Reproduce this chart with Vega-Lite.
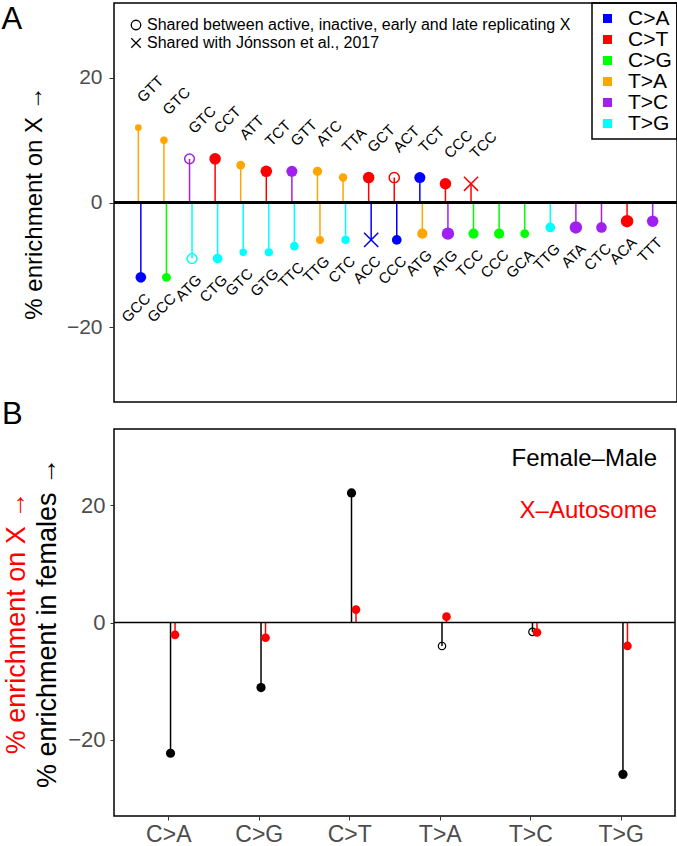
{
  "$schema": "https://vega.github.io/schema/vega-lite/v6.json",
  "padding": {"left": 0, "top": 1, "right": 1, "bottom": 0},
  "spacing": -5,
  "config": {
    "font": "Liberation Sans",
    "view": {"stroke": "black", "strokeWidth": 1.5},
    "axis": {"labelFont": "Liberation Sans", "titleFont": "Liberation Sans", "labelColor": "#4D4D4D", "tickColor": "#333333", "domain": false, "grid": false, "titleFontWeight": "normal", "titleColor": "black"},
    "legend": {"labelFont": "Liberation Sans", "titleFont": "Liberation Sans", "labelColor": "black", "strokeWidth": 1.5},
    "title": {"font": "Liberation Sans", "fontWeight": "normal", "color": "black"}
  },
  "resolve": {"scale": {"color": "independent", "shape": "independent", "size": "independent", "stroke": "independent", "x": "independent", "y": "independent", "xOffset": "independent"}},
  "vconcat": [
    {
      "width": 563,
      "height": 399,
      "title": {"text": "A", "anchor": "start", "frame": "bounds", "fontSize": 31, "baseline": "top", "offset": -34, "dx": -21},
      "data": {"values": [
        {"rank": 1, "dir": "pos", "tri": "GTT", "type": "T>A", "value": 12, "w": 7.5, "shared": "none"},
        {"rank": 2, "dir": "pos", "tri": "GTC", "type": "T>A", "value": 10, "w": 8.5, "shared": "none"},
        {"rank": 3, "dir": "pos", "tri": "GTC", "type": "T>C", "value": 7, "w": 11, "shared": "Shared between active, inactive, early and late replicating X"},
        {"rank": 4, "dir": "pos", "tri": "CCT", "type": "C>T", "value": 7, "w": 13, "shared": "none"},
        {"rank": 5, "dir": "pos", "tri": "ATT", "type": "T>A", "value": 6, "w": 10, "shared": "none"},
        {"rank": 6, "dir": "pos", "tri": "TCT", "type": "C>T", "value": 5, "w": 13, "shared": "none"},
        {"rank": 7, "dir": "pos", "tri": "GTT", "type": "T>C", "value": 5, "w": 12.5, "shared": "none"},
        {"rank": 8, "dir": "pos", "tri": "ATC", "type": "T>A", "value": 5, "w": 10.5, "shared": "none"},
        {"rank": 9, "dir": "pos", "tri": "TTA", "type": "T>A", "value": 4, "w": 9.5, "shared": "none"},
        {"rank": 10, "dir": "pos", "tri": "GCT", "type": "C>T", "value": 4, "w": 13, "shared": "none"},
        {"rank": 11, "dir": "pos", "tri": "ACT", "type": "C>T", "value": 4, "w": 11.5, "shared": "Shared between active, inactive, early and late replicating X"},
        {"rank": 12, "dir": "pos", "tri": "TCT", "type": "C>A", "value": 4, "w": 12.5, "shared": "none"},
        {"rank": 13, "dir": "pos", "tri": "CCC", "type": "C>T", "value": 3, "w": 13, "shared": "none"},
        {"rank": 14, "dir": "pos", "tri": "TCC", "type": "C>T", "value": 3, "w": 16, "shared": "Shared with Jónsson et al., 2017"},
        {"rank": 1, "dir": "neg", "tri": "GCC", "type": "C>A", "value": -12, "w": 12, "shared": "none"},
        {"rank": 2, "dir": "neg", "tri": "GCC", "type": "C>G", "value": -12, "w": 10, "shared": "none"},
        {"rank": 3, "dir": "neg", "tri": "ATG", "type": "T>G", "value": -9, "w": 11, "shared": "Shared between active, inactive, early and late replicating X"},
        {"rank": 4, "dir": "neg", "tri": "CTG", "type": "T>G", "value": -9, "w": 11, "shared": "none"},
        {"rank": 5, "dir": "neg", "tri": "GTC", "type": "T>G", "value": -8, "w": 8.5, "shared": "none"},
        {"rank": 6, "dir": "neg", "tri": "GTG", "type": "T>G", "value": -8, "w": 9.3, "shared": "none"},
        {"rank": 7, "dir": "neg", "tri": "TTC", "type": "T>G", "value": -7, "w": 9.7, "shared": "none"},
        {"rank": 8, "dir": "neg", "tri": "TTG", "type": "T>A", "value": -6, "w": 9, "shared": "none"},
        {"rank": 9, "dir": "neg", "tri": "CTC", "type": "T>G", "value": -6, "w": 9.3, "shared": "none"},
        {"rank": 10, "dir": "neg", "tri": "ACC", "type": "C>A", "value": -6, "w": 16, "shared": "Shared with Jónsson et al., 2017"},
        {"rank": 11, "dir": "neg", "tri": "CCC", "type": "C>A", "value": -6, "w": 11, "shared": "none"},
        {"rank": 12, "dir": "neg", "tri": "ATG", "type": "T>A", "value": -5, "w": 11.5, "shared": "none"},
        {"rank": 13, "dir": "neg", "tri": "ATG", "type": "T>C", "value": -5, "w": 14, "shared": "none"},
        {"rank": 14, "dir": "neg", "tri": "TCC", "type": "C>G", "value": -5, "w": 11.5, "shared": "none"},
        {"rank": 15, "dir": "neg", "tri": "CCC", "type": "C>G", "value": -5, "w": 11.5, "shared": "none"},
        {"rank": 16, "dir": "neg", "tri": "GCA", "type": "C>G", "value": -5, "w": 10, "shared": "none"},
        {"rank": 17, "dir": "neg", "tri": "TTG", "type": "T>G", "value": -4, "w": 11, "shared": "none"},
        {"rank": 18, "dir": "neg", "tri": "ATA", "type": "T>C", "value": -4, "w": 14, "shared": "none"},
        {"rank": 19, "dir": "neg", "tri": "CTC", "type": "T>C", "value": -4, "w": 12, "shared": "none"},
        {"rank": 20, "dir": "neg", "tri": "ACA", "type": "C>T", "value": -3, "w": 14, "shared": "none"},
        {"rank": 21, "dir": "neg", "tri": "TTT", "type": "T>C", "value": -3, "w": 13, "shared": "none"}
      ]},
      "layer": [
        {
          "mark": {"type": "rule", "strokeWidth": 1.5},
          "encoding": {
            "x": {"field": "rank", "type": "ordinal", "scale": {"type": "point", "padding": 1.15}, "axis": null},
            "xOffset": {"field": "dir", "type": "nominal", "scale": {"type": "point", "domain": ["pos", "neg"], "range": [-2.5, 2.5]}},
            "y": {"field": "value", "type": "quantitative", "scale": {"domain": [-32, 32], "nice": false}, "axis": {"title": "% enrichment on X →", "values": [-20, 0, 20], "titleFontSize": 24, "labelFontSize": 21, "titlePadding": 20, "labelPadding": 7, "tickSize": 5}},
            "y2": {"datum": 0},
            "stroke": {"field": "type", "type": "nominal", "sort": ["C>A", "C>T", "C>G", "T>A", "T>C", "T>G"], "scale": {"range": ["#0000FF", "#FF0000", "#00FF00", "#FFA500", "#A020F0", "#00FFFF"]}, "legend": null}
          }
        },
        {
          "mark": {"type": "rule", "color": "black", "strokeWidth": 1.5},
          "encoding": {"y": {"datum": 0, "type": "quantitative", "scale": {"domain": [-32, 32], "nice": false}, "axis": {"title": "% enrichment on X →", "values": [-20, 0, 20], "titleFontSize": 24, "labelFontSize": 21, "titlePadding": 20, "labelPadding": 7, "tickSize": 5}}}
        },
        {
          "transform": [{"filter": "datum.shared === 'none'"}],
          "mark": {"type": "point", "filled": true, "opacity": 1, "shape": "circle"},
          "encoding": {
            "x": {"field": "rank", "type": "ordinal", "scale": {"type": "point", "padding": 1.15}, "axis": null},
            "xOffset": {"field": "dir", "type": "nominal", "scale": {"type": "point", "domain": ["pos", "neg"], "range": [-2.5, 2.5]}},
            "y": {"field": "value", "type": "quantitative", "scale": {"domain": [-32, 32], "nice": false}, "axis": {"title": "% enrichment on X →", "values": [-20, 0, 20], "titleFontSize": 24, "labelFontSize": 21, "titlePadding": 20, "labelPadding": 7, "tickSize": 5}},
            "size": {"field": "w", "type": "quantitative", "scale": {"type": "pow", "exponent": 2, "domain": [0, 16], "range": [0, 201]}, "legend": null},
            "color": {"field": "type", "type": "nominal", "sort": ["C>A", "C>T", "C>G", "T>A", "T>C", "T>G"], "scale": {"range": ["#0000FF", "#FF0000", "#00FF00", "#FFA500", "#A020F0", "#00FFFF"]},
              "legend": {"orient": "top-right", "offset": 0, "title": null, "symbolType": "square", "symbolSize": 81, "symbolStrokeWidth": 0, "labelFontSize": 21, "rowPadding": -1.4, "padding": 5, "strokeColor": "black", "labelOffset": 10}}
          }
        },
        {
          "transform": [{"filter": "datum.shared !== 'none'"}],
          "mark": {"type": "point", "filled": false, "opacity": 1, "strokeWidth": 1.5},
          "encoding": {
            "x": {"field": "rank", "type": "ordinal", "scale": {"type": "point", "padding": 1.15}, "axis": null},
            "xOffset": {"field": "dir", "type": "nominal", "scale": {"type": "point", "domain": ["pos", "neg"], "range": [-2.5, 2.5]}},
            "y": {"field": "value", "type": "quantitative", "scale": {"domain": [-32, 32], "nice": false}, "axis": {"title": "% enrichment on X →", "values": [-20, 0, 20], "titleFontSize": 24, "labelFontSize": 21, "titlePadding": 20, "labelPadding": 7, "tickSize": 5}},
            "size": {"field": "w", "type": "quantitative", "legend": null},
            "stroke": {"field": "type", "type": "nominal", "sort": ["C>A", "C>T", "C>G", "T>A", "T>C", "T>G"], "legend": null},
            "shape": {"field": "shared", "type": "nominal", "scale": {"range": ["circle", "M-1,-1L1,1M1,-1L-1,1"]},
              "legend": {"orient": "top-left", "offset": 14, "title": null, "labelFontSize": 16, "rowPadding": 2, "padding": 0, "symbolSize": 90, "symbolStrokeColor": "black", "symbolFillColor": "transparent", "symbolStrokeWidth": 1.3, "labelOffset": 3, "labelLimit": 700}}
          }
        },
        {
          "transform": [{"filter": "datum.dir === 'pos'"}],
          "mark": {"type": "text", "angle": 315, "align": "left", "baseline": "middle", "radius": 28, "theta": 0.05, "fontSize": 15, "color": "black"},
          "encoding": {
            "x": {"field": "rank", "type": "ordinal", "scale": {"type": "point", "padding": 1.15}, "axis": null},
            "xOffset": {"field": "dir", "type": "nominal", "scale": {"type": "point", "domain": ["pos", "neg"], "range": [-2.5, 2.5]}},
            "y": {"field": "value", "type": "quantitative", "scale": {"domain": [-32, 32], "nice": false}, "axis": {"title": "% enrichment on X →", "values": [-20, 0, 20], "titleFontSize": 24, "labelFontSize": 21, "titlePadding": 20, "labelPadding": 7, "tickSize": 5}},
            "text": {"field": "tri"}
          }
        },
        {
          "transform": [{"filter": "datum.dir === 'neg'"}],
          "mark": {"type": "text", "angle": 315, "align": "right", "baseline": "middle", "radius": 20, "theta": 2.78, "fontSize": 15, "color": "black"},
          "encoding": {
            "x": {"field": "rank", "type": "ordinal", "scale": {"type": "point", "padding": 1.15}, "axis": null},
            "xOffset": {"field": "dir", "type": "nominal", "scale": {"type": "point", "domain": ["pos", "neg"], "range": [-2.5, 2.5]}},
            "y": {"field": "value", "type": "quantitative", "scale": {"domain": [-32, 32], "nice": false}, "axis": {"title": "% enrichment on X →", "values": [-20, 0, 20], "titleFontSize": 24, "labelFontSize": 21, "titlePadding": 20, "labelPadding": 7, "tickSize": 5}},
            "text": {"field": "tri"}
          }
        }
      ]
    },
    {
      "width": 561,
      "height": 387,
      "title": {"text": "B", "anchor": "start", "frame": "bounds", "fontSize": 31, "baseline": "top", "offset": -2, "dx": 0},
      "data": {"values": [
        {"mut": "C>A", "series": "Female–Male", "value": -22.3, "sig": true},
        {"mut": "C>G", "series": "Female–Male", "value": -11.1, "sig": true},
        {"mut": "C>T", "series": "Female–Male", "value": 22.1, "sig": true},
        {"mut": "T>A", "series": "Female–Male", "value": -4.0, "sig": false},
        {"mut": "T>C", "series": "Female–Male", "value": -1.6, "sig": false},
        {"mut": "T>G", "series": "Female–Male", "value": -25.9, "sig": true},
        {"mut": "C>A", "series": "X–Autosome", "value": -2.1, "sig": true},
        {"mut": "C>G", "series": "X–Autosome", "value": -2.6, "sig": true},
        {"mut": "C>T", "series": "X–Autosome", "value": 2.2, "sig": true},
        {"mut": "T>A", "series": "X–Autosome", "value": 1.0, "sig": true},
        {"mut": "T>C", "series": "X–Autosome", "value": -1.7, "sig": true},
        {"mut": "T>G", "series": "X–Autosome", "value": -4.0, "sig": true}
      ]},
      "resolve": {"scale": {"y": "independent"}},
      "layer": [
        {
          "mark": {"type": "rule", "strokeWidth": 1.5},
          "encoding": {
            "x": {"field": "mut", "type": "nominal", "scale": {"type": "point", "padding": 0.6}, "axis": {"title": null, "labelFontSize": 23, "labelAngle": 0, "tickSize": 4, "labelPadding": 3}},
            "xOffset": {"field": "series", "type": "nominal", "scale": {"type": "point", "domain": ["Female–Male", "X–Autosome"], "range": [0, 9]}},
            "y": {"field": "value", "type": "quantitative", "scale": {"domain": [-33, 33], "nice": false}, "axis": {"title": "% enrichment in females →", "values": [-20, 0, 20], "titleFontSize": 27, "labelFontSize": 22, "titlePadding": 6, "labelPadding": 5, "tickSize": 4, "orient": "left"}},
            "y2": {"datum": 0},
            "color": {"field": "series", "type": "nominal", "scale": {"domain": ["Female–Male", "X–Autosome"], "range": ["black", "red"]},
              "legend": {"orient": "top-right", "offset": 18, "title": null, "symbolSize": 0, "symbolOpacity": 0, "symbolStrokeWidth": 0, "labelOffset": 0, "labelFontSize": 24, "rowPadding": 28, "padding": 0, "labelAlign": "right", "labelLimit": 400, "labelColor": {"expr": "datum.value === 'X–Autosome' ? 'red' : 'black'"}}}
          }
        },
        {
          "data": {"values": [{}]},
          "mark": {"type": "rule", "color": "black", "strokeWidth": 1.5},
          "encoding": {"y": {"datum": 0, "type": "quantitative", "scale": {"domain": [-33, 33], "nice": false}, "axis": null}}
        },
        {
          "transform": [{"filter": "datum.series === 'Female–Male' && datum.sig"}],
          "mark": {"type": "point", "filled": true, "opacity": 1, "size": 85, "shape": "circle"},
          "encoding": {
            "x": {"field": "mut", "type": "nominal", "scale": {"type": "point", "padding": 0.6}},
            "xOffset": {"field": "series", "type": "nominal", "scale": {"type": "point", "domain": ["Female–Male", "X–Autosome"], "range": [0, 9]}},
            "y": {"field": "value", "type": "quantitative", "scale": {"domain": [-33, 33], "nice": false}, "axis": null},
            "color": {"field": "series", "type": "nominal"}
          }
        },
        {
          "transform": [{"filter": "datum.series === 'Female–Male' && !datum.sig"}],
          "mark": {"type": "point", "filled": false, "opacity": 1, "size": 55, "strokeWidth": 1.2, "shape": "circle"},
          "encoding": {
            "x": {"field": "mut", "type": "nominal", "scale": {"type": "point", "padding": 0.6}},
            "xOffset": {"field": "series", "type": "nominal", "scale": {"type": "point", "domain": ["Female–Male", "X–Autosome"], "range": [0, 9]}},
            "y": {"field": "value", "type": "quantitative", "scale": {"domain": [-33, 33], "nice": false}, "axis": null},
            "color": {"field": "series", "type": "nominal"}
          }
        },
        {
          "transform": [{"filter": "datum.series === 'X–Autosome'"}],
          "mark": {"type": "point", "filled": true, "opacity": 1, "size": 75, "shape": "circle"},
          "encoding": {
            "x": {"field": "mut", "type": "nominal", "scale": {"type": "point", "padding": 0.6}},
            "xOffset": {"field": "series", "type": "nominal", "scale": {"type": "point", "domain": ["Female–Male", "X–Autosome"], "range": [0, 9]}},
            "y": {"field": "value", "type": "quantitative", "scale": {"domain": [-33, 33], "nice": false}, "axis": {"title": "% enrichment on X →", "titleColor": "red", "titleFontSize": 27, "labels": false, "ticks": false, "domain": false, "orient": "left", "titlePadding": 84}},
            "color": {"field": "series", "type": "nominal"}
          }
        }
      ]
    }
  ]
}
